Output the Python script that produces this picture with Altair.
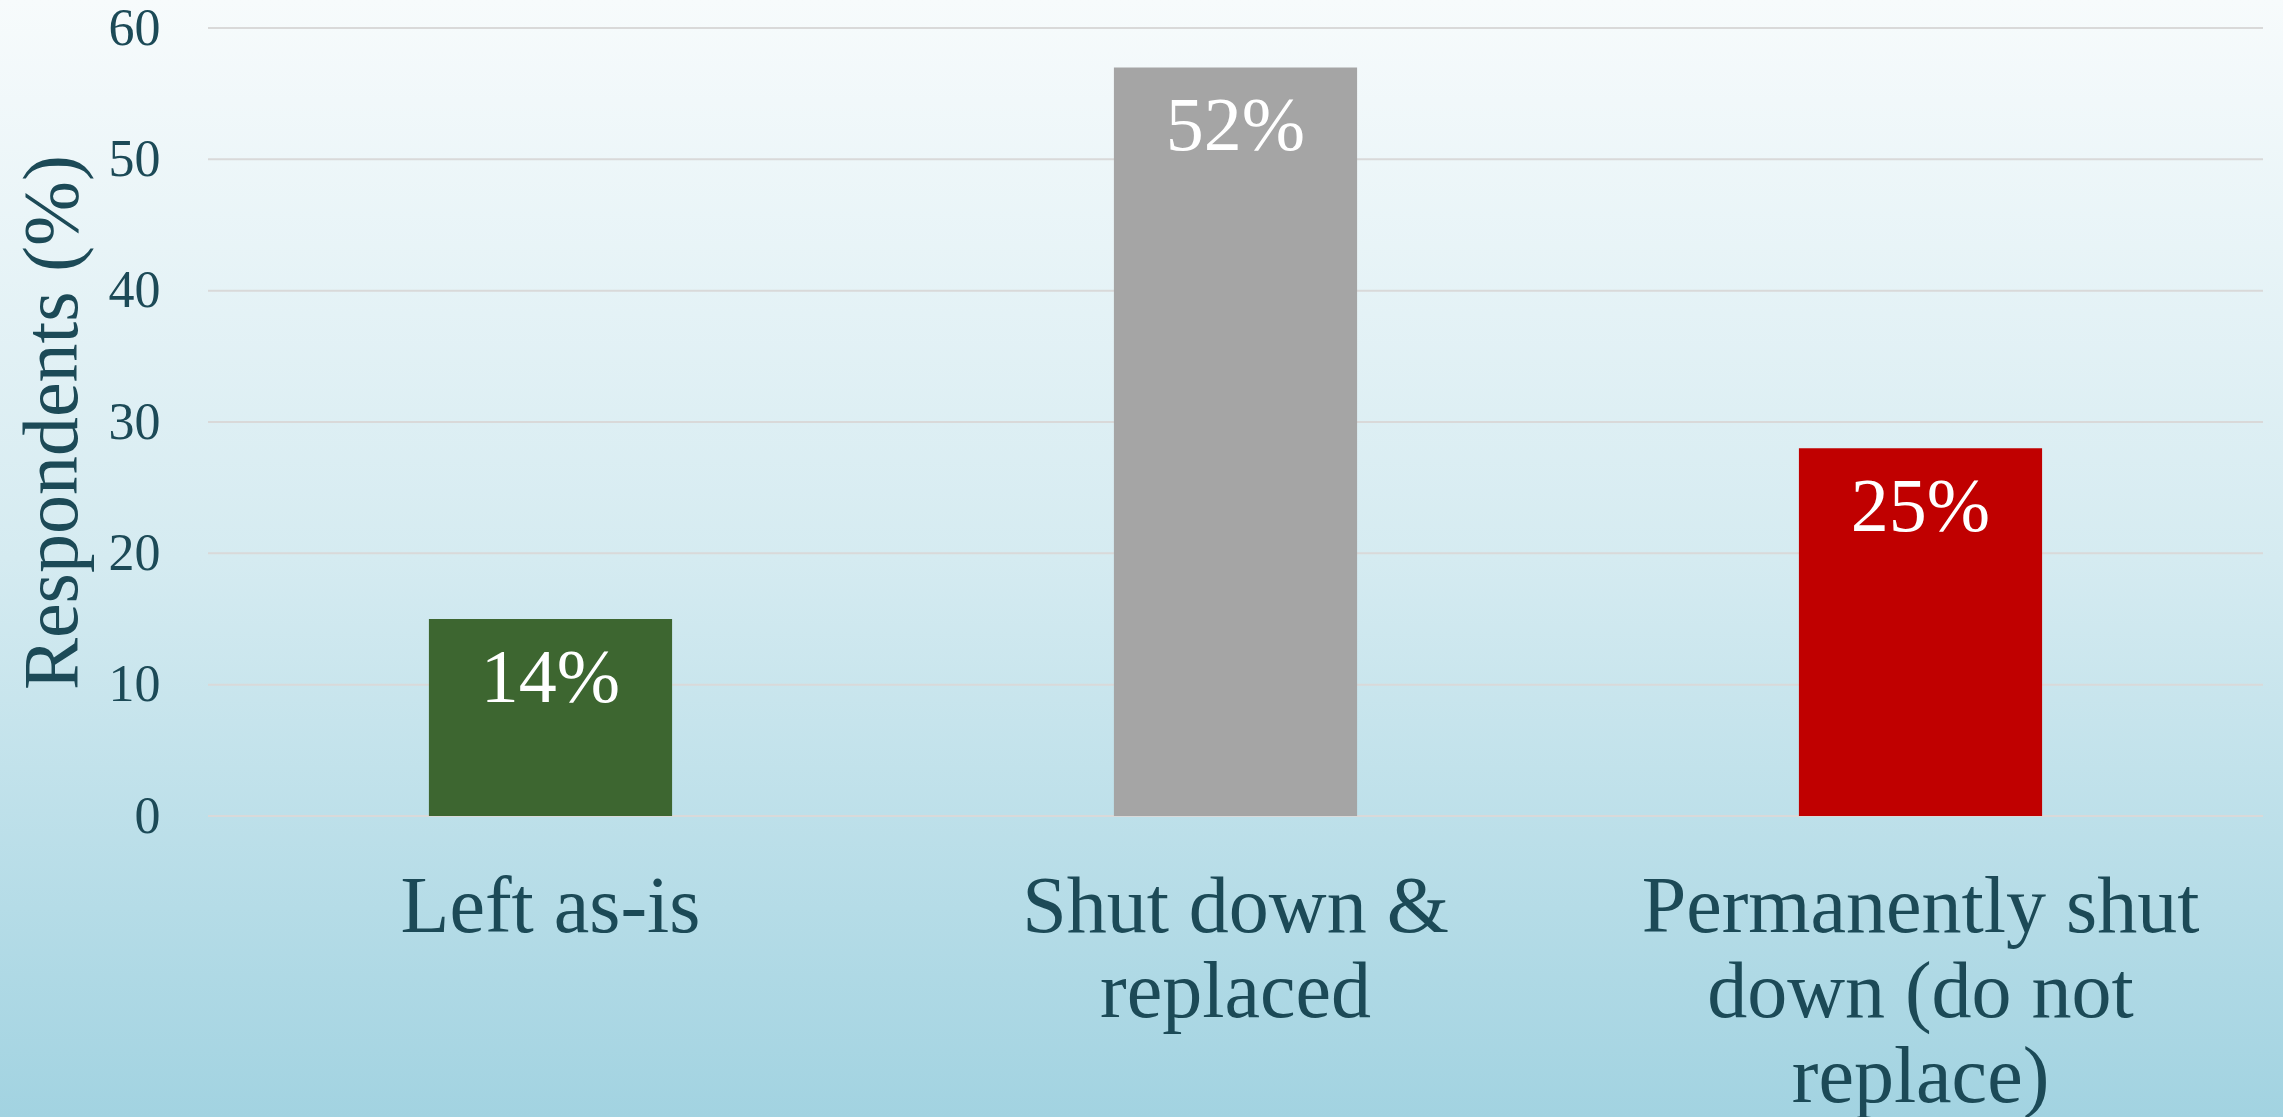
import altair as alt
import pandas as pd

# Survey responses
categories = ["Left as-is", "Shut down & replaced", "Permanently shut down (do not replace)"]
label_lines = [["Left as-is"], ["Shut down &", "replaced"], ["Permanently shut", "down (do not", "replace)"]]
values = [15, 57, 28]
value_labels = ["14%", "52%", "25%"]
bar_colors = ["#3d6630", "#a5a5a5", "#c00000"]
y_ticks = [0, 10, 20, 30, 40, 50, 60]

TEXT = "#1c4a57"
FONT = "Liberation Serif"
W, H = 2055, 788

df = pd.DataFrame({"category": categories, "value": values, "label": value_labels, "color": bar_colors})
ticks_df = pd.DataFrame({"tick": y_ticks})

# multi-line category labels
expr_parts = []
for cat, lines in zip(categories, label_lines):
    arr = "[" + ",".join("'" + l.replace("'", "\\'") + "'" for l in lines) + "]"
    expr_parts.append(f"datum.value == '{cat}' ? {arr}")
label_expr = " : ".join(expr_parts) + " : datum.label"

x_enc = alt.X(
    "category:N",
    sort=categories,
    scale=alt.Scale(paddingInner=0.645, paddingOuter=0.3225),
    axis=alt.Axis(
        title=None, labelAngle=0, ticks=False, domain=False, grid=False, zindex=1,
        labelFont=FONT, labelFontSize=80, labelColor=TEXT, labelPadding=52,
        labelLineHeight=85, labelExpr=label_expr, labelLimit=0,
    ),
)
y_scale = alt.Scale(domain=[0, 60], nice=False)

background = alt.Chart(df).mark_rect(
    color=alt.Gradient(
        gradient="linear", x1=0, y1=0, x2=0, y2=1,
        stops=[
            alt.GradientStop(offset=0, color="#f7fbfc"),
            alt.GradientStop(offset=0.5, color="#d5ebf1"),
            alt.GradientStop(offset=1, color="#a2d3e1"),
        ],
    )
).encode(
    x=alt.value(-208), x2=alt.value(W + 20), y=alt.value(-28), y2=alt.value(H + 301)
)

grid = alt.Chart(ticks_df).mark_rule(color="#d9d9d9", strokeWidth=2).encode(
    y=alt.Y("tick:Q", scale=y_scale),
    x=alt.value(0), x2=alt.value(W),
)

bars = alt.Chart(df).mark_bar().encode(
    x=x_enc,
    y=alt.Y(
        "value:Q", scale=y_scale,
        axis=alt.Axis(
            title="Respondents (%)", values=y_ticks, grid=False, ticks=False, domain=False,
            zindex=1,
            labelFont=FONT, labelFontSize=52, labelColor=TEXT, labelPadding=48,
            titleFont=FONT, titleFontSize=78, titleColor=TEXT, titleFontWeight="normal",
            titlePadding=16,
        ),
    ),
    color=alt.Color("color:N", scale=None, legend=None),
)

labels = alt.Chart(df).mark_text(
    font=FONT, fontSize=76, color="white", baseline="alphabetic", dy=83
).encode(
    x=alt.X("category:N", sort=categories),
    y=alt.Y("value:Q", scale=y_scale),
    text="label:N",
)

chart = alt.layer(background, grid, bars, labels).properties(
    width=W, height=H,
    autosize=alt.AutoSizeParams(type="none"),
    padding={"left": 208, "top": 28, "right": 20, "bottom": 301},
).configure_view(stroke=None).configure(background="#a2d3e1")

chart.save("out.html", embed_options={"renderer": "svg", "actions": False})
